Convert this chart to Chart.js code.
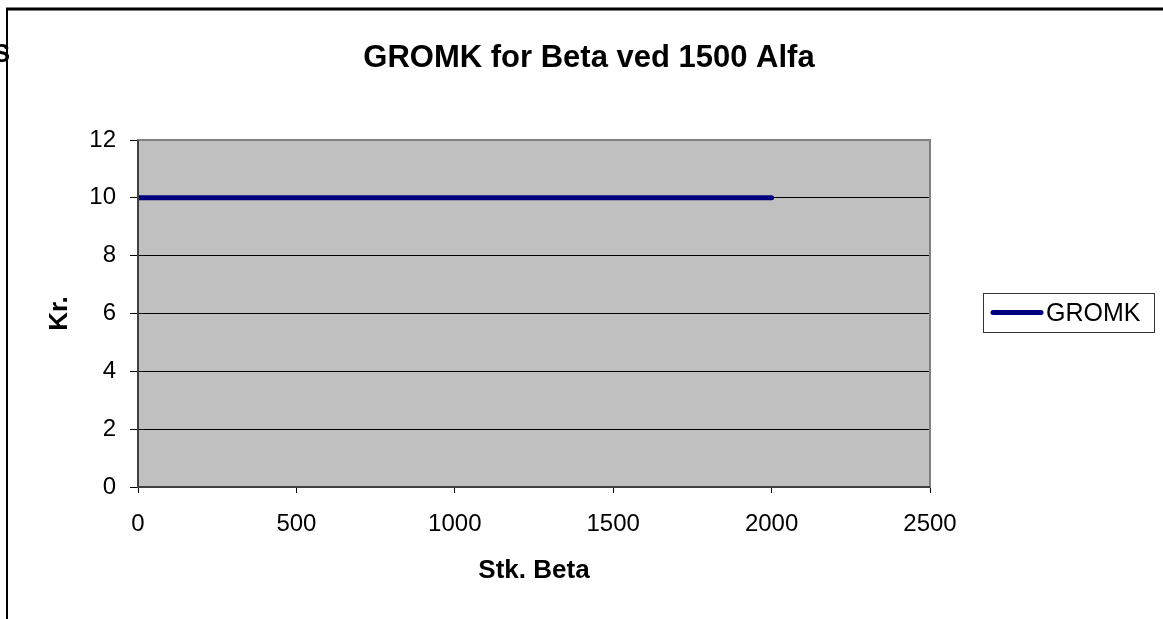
<!DOCTYPE html>
<html>
<head>
<meta charset="utf-8">
<script src="https://cdn.jsdelivr.net/npm/chart.js@4/dist/chart.umd.min.js"></script>
<style>
  html, body { margin: 0; padding: 0; background: #fff; }
  canvas { display: block; }
</style>
</head>
<body>
<canvas id="gromkChart" width="1163" height="619"></canvas>
<script>
// data
const chartTitle = 'GROMK for Beta ved 1500 Alfa';
const seriesLabel = 'GROMK';
const stkBeta = [0, 500, 1000, 1500, 2000];
const gromkValues = [10, 10, 10, 10, 10];
const xTicks = [0, 500, 1000, 1500, 2000, 2500];
const yTicks = [0, 2, 4, 6, 8, 10, 12];

const FONT = '"Liberation Sans", Arial, sans-serif';
const LINE_COLOR = '#000080';

// plot background, frame, title and legend box
const decorations = {
    id: 'decorations',
    beforeDraw(chart) {
        const { ctx, chartArea: a } = chart;
        ctx.save();
        ctx.fillStyle = '#fff';
        ctx.fillRect(0, 0, chart.width, chart.height);
        ctx.fillStyle = '#C0C0C0';
        ctx.fillRect(a.left, a.top, a.right - a.left, a.bottom - a.top);
        ctx.restore();
    },
    afterDraw(chart) {
        const { ctx, chartArea: a } = chart;
        ctx.save();

        // plot area border
        ctx.strokeStyle = '#808080';
        ctx.lineWidth = 2;
        ctx.strokeRect(a.left, a.top, a.right - a.left, a.bottom - a.top);
        ctx.strokeStyle = '#404040';
        ctx.beginPath();
        ctx.moveTo(a.left, a.top);
        ctx.lineTo(a.left, a.bottom);
        ctx.lineTo(a.right, a.bottom);
        ctx.stroke();

        // clipped letter at the left edge
        ctx.fillStyle = '#000';
        ctx.font = 'bold 26px ' + FONT;
        ctx.textAlign = 'right';
        ctx.textBaseline = 'alphabetic';
        ctx.fillText('S', 10, 62);

        // outer frame (top + left)
        ctx.strokeStyle = '#000';
        ctx.lineWidth = 3;
        ctx.beginPath();
        ctx.moveTo(6, 9);
        ctx.lineTo(chart.width, 9);
        ctx.stroke();
        ctx.lineWidth = 2;
        ctx.beginPath();
        ctx.moveTo(7, 8);
        ctx.lineTo(7, chart.height);
        ctx.stroke();

        // title
        ctx.fillStyle = '#000';
        ctx.font = 'bold 31px ' + FONT;
        ctx.textAlign = 'center';
        ctx.textBaseline = 'middle';
        ctx.fillText(chartTitle, 589, 58);

        // legend
        ctx.strokeStyle = '#333';
        ctx.lineWidth = 1;
        ctx.strokeRect(983.5, 293.5, 171, 39);
        ctx.strokeStyle = LINE_COLOR;
        ctx.lineWidth = 5;
        ctx.lineCap = 'round';
        ctx.beginPath();
        ctx.moveTo(993, 312.5);
        ctx.lineTo(1041, 312.5);
        ctx.stroke();
        ctx.fillStyle = '#000';
        ctx.font = '25px ' + FONT;
        ctx.textAlign = 'left';
        ctx.fillText(seriesLabel, 1046, 314);

        ctx.restore();
    }
};

const ctx = document.getElementById('gromkChart').getContext('2d');
new Chart(ctx, {
    type: 'line',
    data: {
        datasets: [{
            label: seriesLabel,
            data: stkBeta.map((x, i) => ({ x: x, y: gromkValues[i] })),
            borderColor: LINE_COLOR,
            borderWidth: 5,
            borderCapStyle: 'round',
            pointRadius: 0,
            fill: false,
            tension: 0
        }]
    },
    options: {
        responsive: false,
        animation: false,
        devicePixelRatio: 1,
        layout: { padding: { top: 140, right: 233, bottom: 0, left: 0 } },
        plugins: {
            legend: { display: false },
            title: { display: false },
            tooltip: { enabled: false }
        },
        scales: {
            x: {
                type: 'linear',
                min: 0,
                max: 2500,
                afterFit(scale) { scale.height = 132; },
                afterBuildTicks(scale) { scale.ticks = xTicks.map(v => ({ value: v })); },
                ticks: {
                    color: '#000',
                    font: { family: FONT, size: 24 },
                    padding: 17,
                    maxRotation: 0,
                    callback: v => String(v)
                },
                grid: {
                    drawOnChartArea: false,
                    drawTicks: true,
                    tickLength: 6,
                    tickColor: '#000'
                },
                border: { display: false },
                title: {
                    display: true,
                    text: 'Stk. Beta',
                    color: '#000',
                    font: { family: FONT, size: 26, weight: 'bold' },
                    padding: { top: 0, bottom: 33 }
                }
            },
            y: {
                min: 0,
                max: 12,
                afterFit(scale) { scale.width = 138; },
                afterBuildTicks(scale) { scale.ticks = yTicks.map(v => ({ value: v })); },
                ticks: {
                    color: '#000',
                    font: { family: FONT, size: 24 },
                    padding: 14,
                    callback: v => String(v)
                },
                grid: {
                    color: '#000',
                    lineWidth: 1,
                    tickLength: 8,
                    tickColor: '#000'
                },
                border: { display: false },
                title: {
                    display: true,
                    text: 'Kr.',
                    color: '#000',
                    font: { family: FONT, size: 26, weight: 'bold' },
                    padding: { top: 44, bottom: 0 }
                }
            }
        }
    },
    plugins: [decorations]
});
</script>
</body>
</html>
